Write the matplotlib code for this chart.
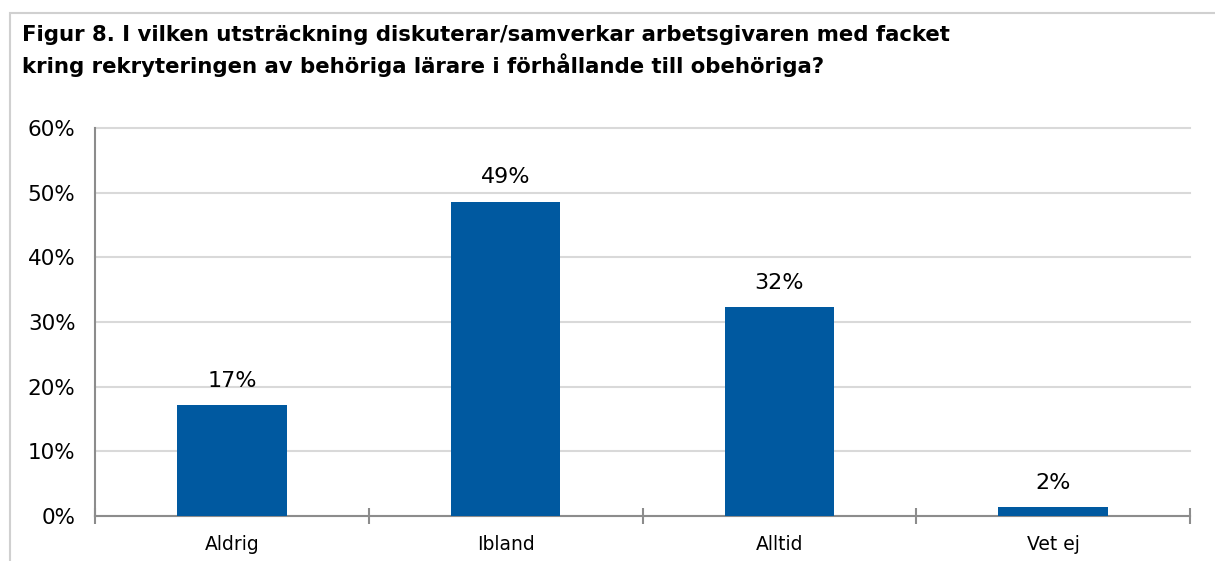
import matplotlib
matplotlib.use("Agg")
import matplotlib.pyplot as plt
from matplotlib.patches import Rectangle
from matplotlib.ticker import FixedLocator, PercentFormatter

categories = ["Aldrig", "Ibland", "Alltid", "Vet ej"]
values = [17.2, 48.6, 32.3, 1.4]
labels = ["17%", "49%", "32%", "2%"]
yticks = [0, 10, 20, 30, 40, 50, 60]

BAR = "#0059A0"
GRID = "#D9D9D9"
AXIS = "#8C8C8C"

plt.rcParams["font.family"] = ["DejaVu Sans"]

fig = plt.figure(figsize=(12.15, 5.61), dpi=100)

# light frame around the figure (open to the right and bottom)
fig.patches.append(Rectangle((10 / 1215, -0.1), 1.2, 1 - 13 / 561 + 0.1,
                             transform=fig.transFigure, fill=False,
                             edgecolor="#D0D0D0", linewidth=1.5))

fig.text(22 / 1215, 1 - 25 / 561,
         "Figur 8. I vilken utsträckning diskuterar/samverkar arbetsgivaren med facket\n"
         "kring rekryteringen av behöriga lärare i förhållande till obehöriga?",
         fontsize=15.3, fontweight="bold", va="top", ha="left", linespacing=1.4)

ax = fig.add_axes([95 / 1215, 1 - 516 / 561, (1190 - 95) / 1215, (516 - 128) / 561])
x = range(len(categories))
ax.bar(x, values, width=0.4, color=BAR, zorder=3)
for xi, v, lab in zip(x, values, labels):
    ax.text(xi, v + 2.2, lab, ha="center", va="bottom", fontsize=16)

ax.set_xlim(-0.5, len(categories) - 0.5)
ax.set_ylim(0, 60)
ax.set_yticks(yticks)
ax.yaxis.set_major_formatter(PercentFormatter(decimals=0))
ax.tick_params(axis="y", length=0, labelsize=15.5, pad=14)
ax.grid(axis="y", color=GRID, linewidth=1.5, zorder=0)
for gl in ax.get_ygridlines():
    gl.set_clip_on(False)

ax.set_xticks(list(x))
ax.set_xticklabels(categories)
ax.xaxis.set_minor_locator(FixedLocator([i - 0.5 for i in range(len(categories) + 1)]))
ax.tick_params(axis="x", which="major", length=0, labelsize=13.5, pad=14)
ax.tick_params(axis="x", which="minor", direction="inout", length=12, color=AXIS, width=1.5)

for s in ["top", "right"]:
    ax.spines[s].set_visible(False)
for s in ["left", "bottom"]:
    ax.spines[s].set_color(AXIS)
    ax.spines[s].set_linewidth(1.5)

fig.savefig("out.png", dpi=100)
